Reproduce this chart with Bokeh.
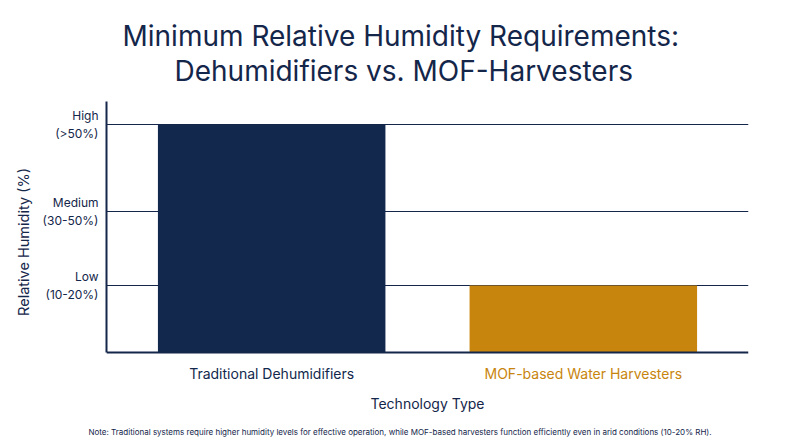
from bokeh.plotting import figure
from bokeh.models import FactorRange, Range1d, FixedTicker, Title, ColumnDataSource, Span
from bokeh.core.properties import value
from bokeh.embed import file_html
from bokeh.resources import INLINE

# data
technologies = ["Traditional Dehumidifiers", "MOF-based Water Harvesters"]
min_rh_level = [68, 20]          # position on the humidity-level scale
bar_colors = ["#12284d", "#c8850d"]
label_colors = ["#12284d", "#c8850d"]
level_ticks = [20, 42, 68]
level_labels = ["Low\n(10-20%)", "Medium\n(30-50%)", "High\n(>50%)"]
title_lines = ["Minimum Relative Humidity Requirements:", "Dehumidifiers vs. MOF-Harvesters"]
note_text = ("Note: Traditional systems require higher humidity levels for effective operation, "
             "while MOF-based harvesters function efficiently even in arid conditions (10-20% RH).")

NAVY = "#14264a"
FONT = "Inter"

src = ColumnDataSource(dict(tech=technologies, val=min_rh_level, color=bar_colors,
                            lcolor=label_colors))

p = figure(width=800, height=447, output_backend="svg", toolbar_location=None,
           x_range=FactorRange(factors=technologies, range_padding=0.03),
           y_range=Range1d(-9, 75), title=None,
           min_border_left=106, min_border_right=52, min_border_top=101, min_border_bottom=65)

p.vbar(x="tech", top="val", width=0.73, color="color", source=src, line_color=None)
p.text(x="tech", y=-6.3, text="tech", text_color="lcolor", source=src,
       text_align="center", text_baseline="middle", text_font=value(FONT),
       text_font_size="14px")

# baseline (x axis line)
p.add_layout(Span(location=0, dimension="width", line_color=NAVY, line_width=2))

# title: two centred lines (first added sits nearest the frame)
p.add_layout(Title(text=title_lines[1], align="left", offset=68, text_font=FONT,
                   text_font_size="28px", text_font_style="normal", text_color=NAVY,
                   standoff=28), "above")
p.add_layout(Title(text=title_lines[0], align="left", offset=16, text_font=FONT,
                   text_font_size="28px", text_font_style="normal", text_color=NAVY,
                   standoff=-30), "above")

p.outline_line_color = None
p.background_fill_color = "white"
p.border_fill_color = "white"

# y axis
p.yaxis.bounds = (0, 75)
p.yaxis.ticker = FixedTicker(ticks=level_ticks)
p.yaxis.major_label_overrides = {t: l for t, l in zip(level_ticks, level_labels)}
p.yaxis.major_label_text_font = FONT
p.yaxis.major_label_text_font_size = "12px"
p.yaxis.major_label_text_color = NAVY
p.yaxis.major_label_text_align = "right"
p.yaxis.major_tick_line_color = None
p.yaxis.minor_tick_line_color = None
p.yaxis.major_tick_out = 0
p.yaxis.major_tick_in = 0
p.yaxis.major_label_standoff = 8
p.yaxis.axis_line_color = NAVY
p.yaxis.axis_line_width = 2
p.yaxis.axis_label = "Relative Humidity (%)"
p.yaxis.axis_label_text_font = FONT
p.yaxis.axis_label_text_font_size = "14.5px"
p.yaxis.axis_label_text_font_style = "normal"
p.yaxis.axis_label_text_color = NAVY
p.yaxis.axis_label_standoff = 8

p.xaxis.visible = False

p.add_layout(Title(text="Technology Type", align="center", text_font=FONT, text_font_size="14px",
                   text_font_style="normal", text_color=NAVY, standoff=20), "below")
p.add_layout(Title(text=note_text, align="left", offset=-18, text_font=FONT,
                   text_font_size="8px", text_font_style="normal", text_color=NAVY,
                   standoff=6), "below")

p.xgrid.grid_line_color = None
p.ygrid.grid_line_color = NAVY
p.ygrid.grid_line_width = 1.2

open("out.html", "w").write(file_html(p, INLINE))
